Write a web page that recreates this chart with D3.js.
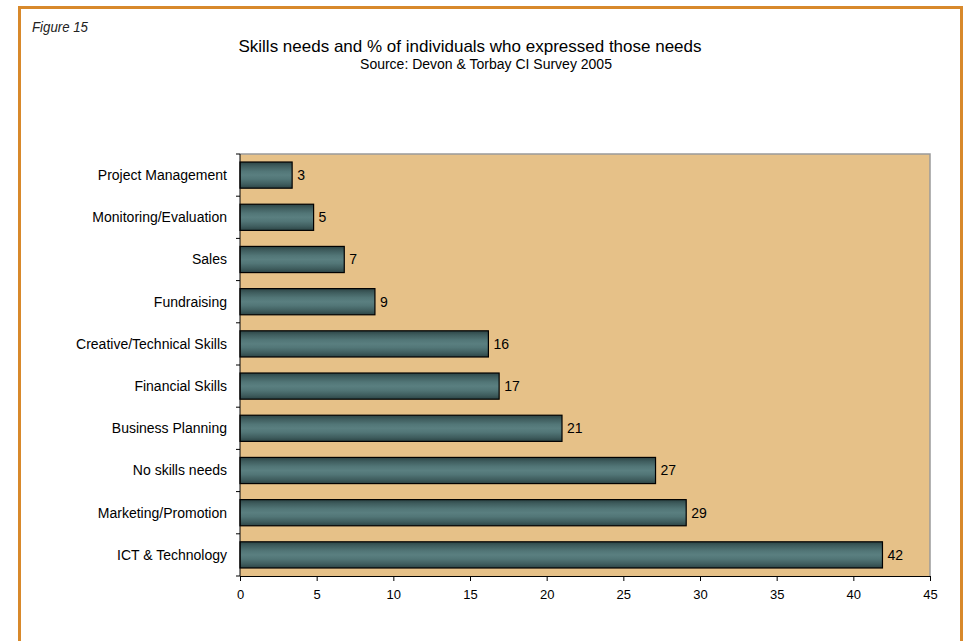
<!DOCTYPE html>
<html><head><meta charset="utf-8">
<script src="https://cdn.jsdelivr.net/npm/d3@7"></script>
<style>body{margin:0;background:#fff}svg{display:block}</style>
</head><body>
<script>
const categories = ["Project Management","Monitoring/Evaluation","Sales","Fundraising","Creative/Technical Skills","Financial Skills","Business Planning","No skills needs","Marketing/Promotion","ICT & Technology"];
const values = [3.4,4.8,6.8,8.8,16.2,16.9,21,27.1,29.1,41.9];
const valueLabels = ["3","5","7","9","16","17","21","27","29","42"];
const xTicks = [0,5,10,15,20,25,30,35,40,45];

const W=964,H=641;
const svg=d3.select("body").append("svg").attr("width",W).attr("height",H);
const font="Liberation Sans, Arial, sans-serif";

// frame
svg.append("rect").attr("x",19.5).attr("y",7.5).attr("width",942).attr("height",H+10)
  .attr("fill","none").attr("stroke","#d8892b").attr("stroke-width",3);

svg.append("text").attr("x",32).attr("y",32).text("Figure 15")
  .attr("font-family","Liberation Sans Narrow, Arial Narrow, "+font).attr("font-style","italic").attr("font-size",15)
  .attr("textLength",56).attr("lengthAdjust","spacingAndGlyphs").attr("fill","#222");
svg.append("text").attr("x",470).attr("y",52).attr("text-anchor","middle").text("Skills needs and % of individuals who expressed those needs")
  .attr("font-family",font).attr("font-size",17).attr("fill","#000");
svg.append("text").attr("x",486).attr("y",69).attr("text-anchor","middle").text("Source: Devon & Torbay CI Survey 2005")
  .attr("font-family",font).attr("font-size",14).attr("fill","#000");

const L=240,R=930,T=154,B=576;
const x=d3.scaleLinear().domain([0,45]).range([L,R]);
const y=d3.scaleBand().domain(categories).range([T,B]).paddingInner(0.38).paddingOuter(0.19);

const defs=svg.append("defs");
const g=defs.append("linearGradient").attr("id","barg").attr("x1",0).attr("y1",0).attr("x2",0).attr("y2",1);
[[0,"#2c4445"],[0.15,"#3f5d5e"],[0.35,"#527677"],[0.5,"#5a7f80"],[0.65,"#527677"],[0.85,"#3f5d5e"],[1,"#2c4445"]]
  .forEach(([o,c])=>g.append("stop").attr("offset",o).attr("stop-color",c));

svg.append("rect").attr("x",L).attr("y",T).attr("width",R-L).attr("height",B-T).attr("fill","#e6c188");
svg.append("path").attr("d",`M${L},${T}H${R}V${B}`).attr("fill","none").attr("stroke","#9a9a9a").attr("stroke-width",1.5);

svg.selectAll("rect.bar").data(categories).join("rect").attr("class","bar")
  .attr("x",x(0)).attr("y",d=>y(d)).attr("width",(d,i)=>x(values[i])-x(0)).attr("height",y.bandwidth())
  .attr("fill","url(#barg)").attr("stroke","#000").attr("stroke-width",1.2);

svg.selectAll("text.val").data(categories).join("text").attr("class","val")
  .attr("x",(d,i)=>x(values[i])+5).attr("y",d=>y(d)+y.bandwidth()/2).attr("dy","0.35em")
  .text((d,i)=>valueLabels[i]).attr("font-family",font).attr("font-size",14).attr("fill","#000");

// y axis
const step=(B-T)/categories.length;
const ya=svg.append("g");
ya.append("line").attr("x1",L).attr("x2",L).attr("y1",T).attr("y2",B).attr("stroke","#000");
d3.range(categories.length+1).forEach(i=>{
  ya.append("line").attr("x1",L-4).attr("x2",L).attr("y1",T+i*step).attr("y2",T+i*step).attr("stroke","#000");
});
ya.selectAll("text").data(categories).join("text").attr("x",L-13).attr("y",d=>y(d)+y.bandwidth()/2).attr("dy","0.35em")
  .attr("text-anchor","end").text(d=>d).attr("font-family",font).attr("font-size",14).attr("fill","#000");

// x axis
const xa=svg.append("g").attr("transform",`translate(0,${B})`)
  .call(d3.axisBottom(x).tickValues(xTicks).tickSize(5).tickSizeOuter(0).tickPadding(9));
xa.select(".domain").attr("stroke","#000");
xa.selectAll("line").attr("stroke","#000");
xa.selectAll("text").attr("font-family",font).attr("font-size",13).attr("fill","#000");
</script>
</body></html>
